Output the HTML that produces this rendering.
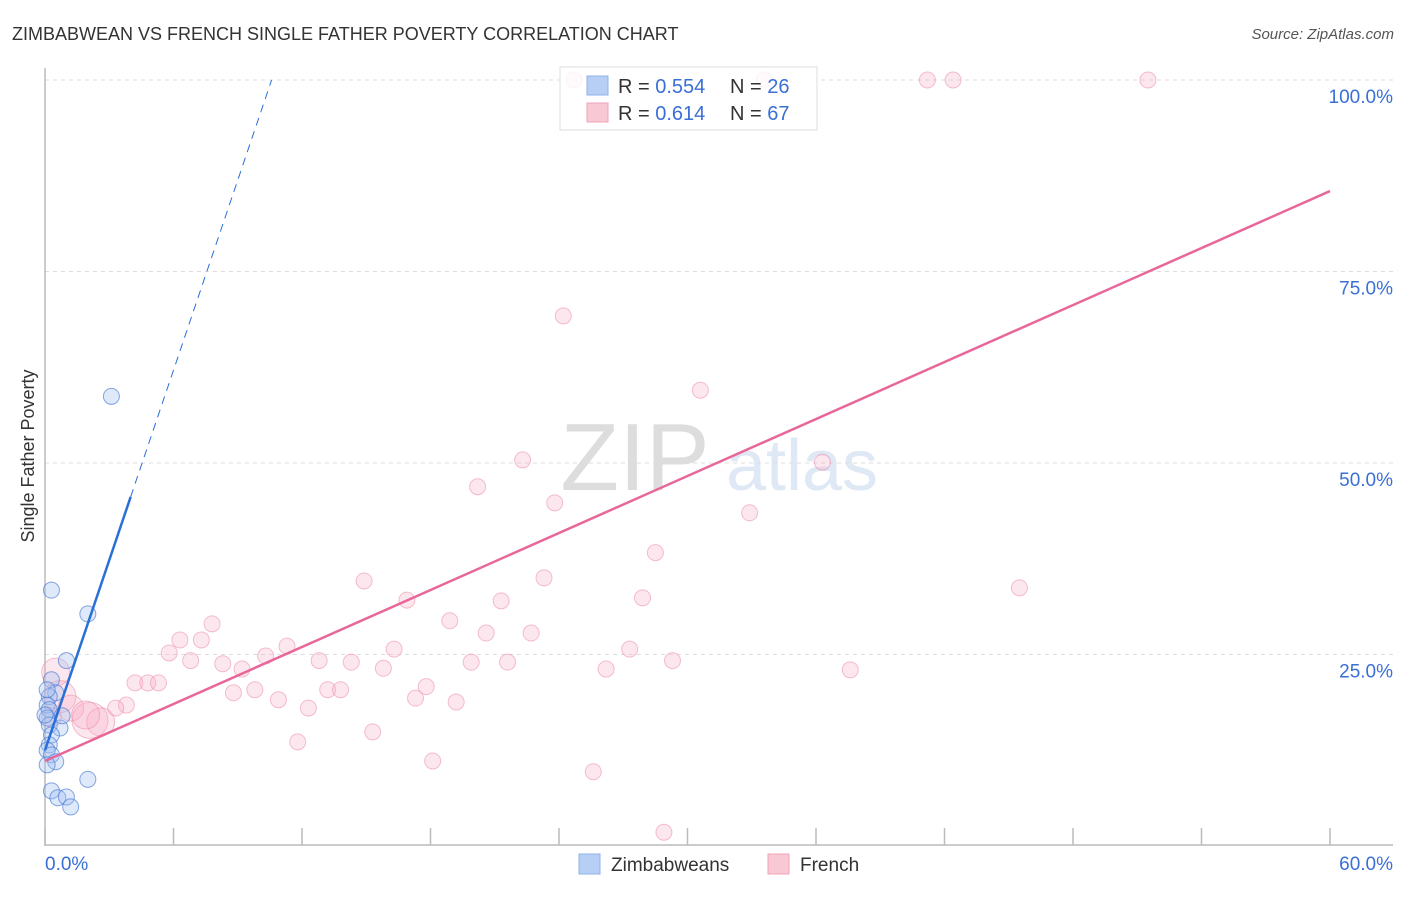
<!DOCTYPE html>
<html><head><meta charset="utf-8"><style>
body{margin:0;background:#fff;font-family:"Liberation Sans",sans-serif;}
svg text{font-family:"Liberation Sans",sans-serif;}
</style></head><body>
<svg width="1406" height="892" viewBox="0 0 1406 892" xmlns="http://www.w3.org/2000/svg">
<text x="12" y="40" font-size="18" fill="#333">ZIMBABWEAN VS FRENCH SINGLE FATHER POVERTY CORRELATION CHART</text>
<text x="1394" y="39" font-size="15" fill="#555" font-style="italic" text-anchor="end">Source: ZipAtlas.com</text>
<text x="34" y="456" font-size="18" fill="#333" text-anchor="middle" transform="rotate(-90 34 456)">Single Father Poverty</text>
<g>
<text x="635" y="490" font-size="96" fill="#ddd" font-family="Liberation Serif" text-anchor="middle">ZIP</text>
<text x="802" y="490" font-size="72" fill="#dfe8f5" text-anchor="middle">atlas</text>
</g>
<g id="grid"></g><g id="axes"></g><g id="pts"></g><g id="lines"></g>
<g>
<rect x="560" y="67" width="257" height="63" fill="rgba(255,255,255,0.82)" stroke="#ddd"/>
<rect x="587" y="76" width="21" height="19" fill="#b7cff5" stroke="#8fb0e8"/>
<rect x="587" y="103" width="21" height="19" fill="#f9c8d5" stroke="#f0a3b9"/>
<text x="618" y="93" font-size="20" fill="#333">R = <tspan fill="#3a6fd6">0.554</tspan></text>
<text x="730" y="93" font-size="20" fill="#333">N = <tspan fill="#3a6fd6">26</tspan></text>
<text x="618" y="120" font-size="20" fill="#333">R =  <tspan fill="#3a6fd6">0.614</tspan></text>
<text x="730" y="120" font-size="20" fill="#333">N = <tspan fill="#3a6fd6">67</tspan></text>
</g>
<g>
<rect x="579" y="854" width="21" height="20" fill="#b7cff5" stroke="#8fb0e8"/>
<text x="611" y="871" font-size="19" fill="#333">Zimbabweans</text>
<rect x="768" y="854" width="21" height="20" fill="#f9c8d5" stroke="#f0a3b9"/>
<text x="800" y="871" font-size="19" fill="#333">French</text>
</g>
</svg>
<script>
const yTicks=[25,50,75,100];
const yTickLabels=["25.0%","50.0%","75.0%","100.0%"];
const xTickVals=[0,6,12,18,24,30,36,42,48,54,60];
const xLabels=["0.0%","60.0%"];
const frX=[24.7,33.6,41.2,42.4,51.5,24.2,30.6,22.3,36.3,20.2,23.8,32.9,28.5,14.9,23.3,45.5,16.9,27.9,21.3,7.8,18.9,20.6,22.7,6.3,7.3,11.3,5.8,16.3,27.3,10.3,6.8,12.8,14.3,19.9,21.6,29.3,8.3,9.2,15.8,26.2,37.6,4.2,4.8,5.3,3.8,8.8,9.8,17.8,13.2,13.8,10.9,17.3,19.2,3.3,12.3,15.3,11.8,18.1,25.6,28.9,0.5,0.7,1.2,2.1,2.6,1.9,0.3];
const frY=[100,100,100,100,100,69.2,59.5,50.4,50.1,46.9,44.8,43.5,38.3,34.6,35.0,33.7,32.1,32.4,32.0,29.0,29.4,27.8,27.8,26.9,26.9,26.1,25.2,25.7,25.7,24.8,24.2,24.2,24.0,24.0,24.0,24.2,23.8,23.1,23.2,23.1,23.0,21.3,21.3,21.3,18.4,20.0,20.4,20.8,20.4,20.4,19.1,19.3,18.8,18.0,18.0,14.9,13.6,11.1,9.7,1.8,22.7,19.5,18.0,16.4,16.2,17.1,16.8];
const frR=[8,8,8,8,8,8,8,8,8,8,8,8,8,8,8,8,8,8,8,8,8,8,8,8,8,8,8,8,8,8,8,8,8,8,8,8,8,8,8,8,8,8,8,8,8,8,8,8,8,8,8,8,8,8,8,8,8,8,8,8,14,16,13,18,14,14,10];
const zwX=[3.1,0.3,2.0,1.0,0.3,0.5,0.2,0.1,0.2,0.1,0.2,0.7,0.3,0.2,0.1,0.3,0.5,0.1,2.0,0.3,0.6,1.0,1.2,0.8,0.0,0.1];
const zwY=[58.7,33.4,30.3,24.2,21.7,20.0,19.5,18.4,17.8,16.7,15.8,15.4,14.5,13.2,12.5,11.9,11.0,10.6,8.7,7.2,6.3,6.4,5.1,17.0,17.1,20.4];
const frTrend=[11.1,85.5];
const zwTrend=[12.5,8.27];
const X0=45,X1=1330,Y0=846,Y1=80;
const sx=v=>X0+(X1-X0)*v/60, sy=v=>Y0-(Y0-Y1)*v/100;
const NS="http://www.w3.org/2000/svg";
function mk(tag,attrs,parent){const e=document.createElementNS(NS,tag);for(const k in attrs)e.setAttribute(k,attrs[k]);document.getElementById(parent).appendChild(e);return e;}
yTicks.forEach((t,i)=>{
 const l=mk('line',{x1:45,x2:1393,y1:sy(t),y2:sy(t),stroke:'#ddd','stroke-dasharray':'4 4'},'grid');
 
 
 const tx=mk('text',{x:1393,y:sy(t)+23,'font-size':19,fill:'#3a6fd6','text-anchor':'end'},'grid');
 tx.textContent=yTickLabels[i];
 
 
});
let a=mk('line',{x1:45,x2:45,y1:68,y2:846,stroke:'#bbb','stroke-width':1.5},'axes');


a=mk('line',{x1:45,x2:1393,y1:845,y2:845,stroke:'#bbb','stroke-width':1.5},'axes');


xTickVals.forEach(v=>{
 const t=mk('line',{x1:sx(v),x2:sx(v),y1:828,y2:845,stroke:'#bbb','stroke-width':1.5},'axes');
 
 
});
let t1=mk('text',{x:45,y:870,'font-size':19,fill:'#3a6fd6'},'axes');t1.textContent=xLabels[0];


let t2=mk('text',{x:1393,y:870,'font-size':19,fill:'#3a6fd6','text-anchor':'end'},'axes');t2.textContent=xLabels[1];


frX.forEach((x,i)=>{
 const c=mk('circle',{cx:sx(x),cy:sy(frY[i]),r:frR[i],fill:'rgba(247,175,198,0.3)',stroke:'rgba(235,140,168,0.55)','stroke-width':1},'pts');
 
 
});
zwX.forEach((x,i)=>{
 const c=mk('circle',{cx:sx(x),cy:sy(zwY[i]),r:8,fill:'rgba(160,192,242,0.35)',stroke:'rgba(70,120,210,0.65)','stroke-width':1},'pts');
 
 
});
let fl=mk('line',{x1:sx(0),y1:sy(frTrend[0]),x2:sx(60),y2:sy(frTrend[1]),stroke:'#e8679a','stroke-width':2.5},'lines');


const zEnd=4.0, zTop=(100-zwTrend[0])/zwTrend[1];
let zl=mk('line',{x1:sx(0),y1:sy(zwTrend[0]),x2:sx(zEnd),y2:sy(zwTrend[0]+zwTrend[1]*zEnd),stroke:'#2a6fd6','stroke-width':2.5},'lines');


let zd=mk('line',{x1:sx(zEnd),y1:sy(zwTrend[0]+zwTrend[1]*zEnd),x2:sx(zTop),y2:sy(100),stroke:'#2a6fd6','stroke-width':1,'stroke-dasharray':'8 6'},'lines');


</script>
</body></html>
